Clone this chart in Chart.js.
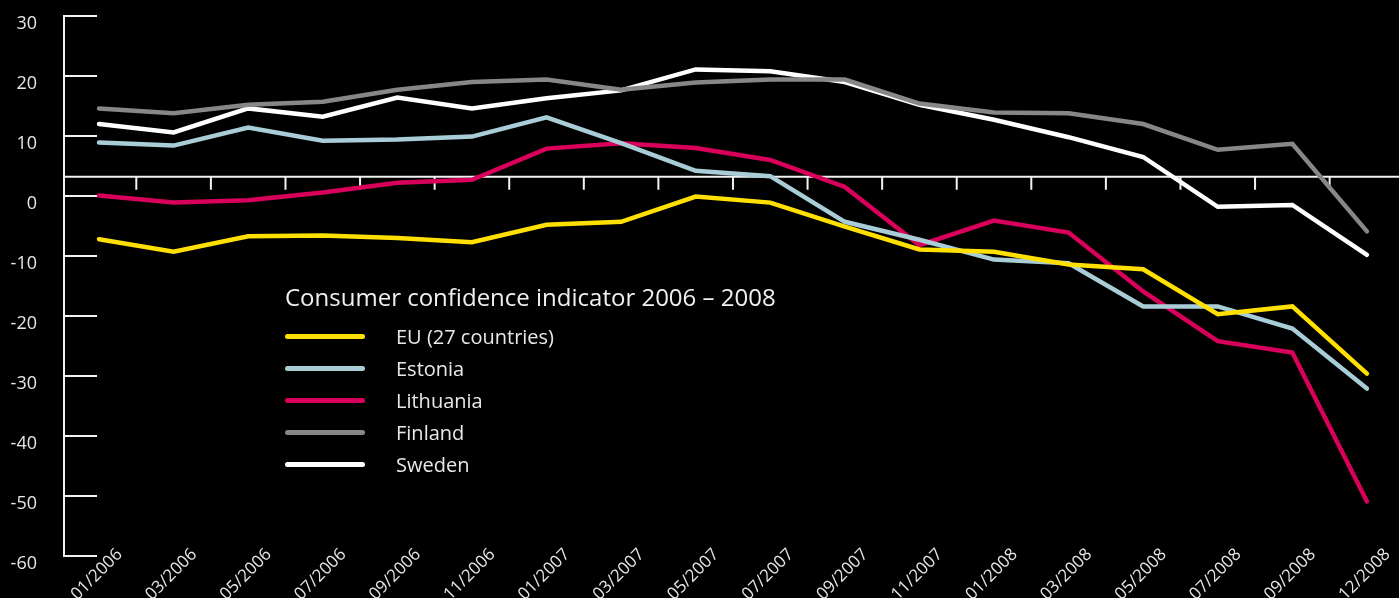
<!DOCTYPE html>
<html>
<head>
<meta charset="utf-8">
<script src="https://cdn.jsdelivr.net/npm/chart.js@4.4.0/dist/chart.umd.min.js"></script>
<style>
  html, body { margin: 0; padding: 0; background: #000; }
  #wrap { position: relative; width: 1399px; height: 598px; }
  #legend {
    position: absolute; left: 285px; top: 280px;
    font-family: "Open Sans", sans-serif; color: #f0f0f0;
  }
  #legend .title { font-size: 24px; line-height: 34px; margin-bottom: 6px; }
  #legend .item { display: flex; align-items: center; height: 32px; }
  #legend .swatch { width: 80px; height: 5px; border-radius: 3px; margin-right: 31px; }
  #legend .label { font-size: 20px; color: #e8e8e8; }
</style>
</head>
<body>
<div id="wrap">
  <canvas id="chart" width="1399" height="598"></canvas>
  <div id="legend"></div>
</div>
<script>
const categories = [
  "01/2006", "03/2006", "05/2006", "07/2006", "09/2006", "11/2006",
  "01/2007", "03/2007", "05/2007", "07/2007", "09/2007", "11/2007",
  "01/2008", "03/2008", "05/2008", "07/2008", "09/2008", "12/2008"
];

const euValues = [-7.2, -9.3, -6.7, -6.6, -7.0, -7.7, -4.8, -4.3, -0.1, -1.1, -5.1, -8.9, -9.3, -11.4, -12.2, -19.7, -18.4, -29.6];
const estoniaValues = [8.9, 8.4, 11.4, 9.2, 9.4, 9.9, 13.1, 8.8, 4.2, 3.3, -4.3, -7.3, -10.6, -11.2, -18.4, -18.4, -22.1, -32.1];
const lithuaniaValues = [0.1, -1.1, -0.7, 0.6, 2.2, 2.7, 7.9, 8.8, 8.0, 6.0, 1.5, -8.2, -4.1, -6.1, -15.9, -24.2, -26.1, -50.9];
const finlandValues = [14.6, 13.8, 15.2, 15.7, 17.7, 19.0, 19.4, 17.7, 18.9, 19.4, 19.4, 15.4, 13.9, 13.8, 12.0, 7.7, 8.7, -5.9];
const swedenValues = [12.0, 10.6, 14.6, 13.2, 16.4, 14.6, 16.3, 17.6, 21.1, 20.8, 19.0, 15.2, 12.7, 9.8, 6.5, -1.8, -1.5, -9.8];

const yTickValues = [30, 20, 10, 0, -10, -20, -30, -40, -50, -60];
const chartTitle = "Consumer confidence indicator 2006 – 2008";
const baselineValue = 3.2; // the horizontal axis line sits a bit above zero in the original

const toPoints = (values) => values.map((v, i) => ({ x: i, y: v }));

const series = [
  { label: "EU (27 countries)", values: euValues, color: "#ffe000" },
  { label: "Estonia", values: estoniaValues, color: "#a9cdd7" },
  { label: "Lithuania", values: lithuaniaValues, color: "#d9005b" },
  { label: "Finland", values: finlandValues, color: "#878787" },
  { label: "Sweden", values: swedenValues, color: "#ffffff" },
];

// axis line, inward ticks and the raised horizontal line with its small ticks
const axisLines = {
  id: "axisLines",
  beforeDatasetsDraw(chart) {
    const { ctx, chartArea } = chart;
    const x = chart.scales.x;
    const y = chart.scales.y;
    ctx.save();
    ctx.strokeStyle = "#f2f2f2";
    ctx.lineWidth = 2;
    ctx.beginPath();
    const left = chartArea.left + 1;
    ctx.moveTo(left, y.getPixelForValue(yTickValues[0]) - 1);
    ctx.lineTo(left, y.getPixelForValue(yTickValues[yTickValues.length - 1]) + 1);
    yTickValues.forEach((v) => {
      const py = y.getPixelForValue(v);
      ctx.moveTo(left, py);
      ctx.lineTo(left + 33, py);
    });
    const by = y.getPixelForValue(baselineValue);
    ctx.moveTo(left, by);
    ctx.lineTo(chartArea.right, by);
    for (let i = 0; i < categories.length - 1; i++) {
      const px = x.getPixelForValue(i + 0.5);
      ctx.moveTo(px, by);
      ctx.lineTo(px, by + 13);
    }
    ctx.stroke();
    ctx.restore();
  },
};

Chart.defaults.font.family = "'Open Sans', sans-serif";

const ctx = document.getElementById("chart").getContext("2d");
const chart = new Chart(ctx, {
  type: "line",
  data: {
    datasets: series.map((s) => ({
      label: s.label,
      data: toPoints(s.values),
      borderColor: s.color,
      backgroundColor: s.color,
      borderWidth: 4.5,
      borderCapStyle: "round",
      pointRadius: 0,
      tension: 0,
      fill: false,
    })),
  },
  options: {
    responsive: false,
    animation: false,
    devicePixelRatio: 1,
    layout: { padding: { top: 16, left: 0, right: 0, bottom: 0 } },
    plugins: {
      legend: { display: false },
      tooltip: { enabled: false },
    },
    scales: {
      x: {
        type: "linear",
        min: -0.483,
        max: 17.43,
        grid: { display: false, drawTicks: false },
        border: { display: false },
        afterFit: (scale) => {
          scale.height = 42;
          scale.paddingLeft = 0;
          scale.paddingRight = 0;
        },
        ticks: {
          stepSize: 1,
          includeBounds: false,
          autoSkip: false,
          minRotation: 45,
          maxRotation: 45,
          mirror: true, // keeps the labels from being clipped at the axis top
          padding: -3,
          labelOffset: 35,
          color: "#e6e6e6",
          font: { size: 17 },
          callback: (v) => (Number.isInteger(v) && categories[v]) || "",
        },
      },
      y: {
        min: -60,
        max: 30,
        grid: { display: false, drawTicks: false },
        border: { display: false },
        afterFit: (scale) => {
          scale.width = 63;
          scale.paddingTop = 0;
          scale.paddingBottom = 0;
        },
        ticks: {
          stepSize: 10,
          padding: 26,
          labelOffset: 8,
          color: "#e6e6e6",
          font: { size: 18 },
        },
      },
    },
  },
  plugins: [axisLines],
});

// legend built from the chart's datasets
const legend = document.getElementById("legend");
const title = document.createElement("div");
title.className = "title";
title.textContent = chartTitle;
legend.appendChild(title);
chart.data.datasets.forEach((ds) => {
  const item = document.createElement("div");
  item.className = "item";
  const sw = document.createElement("span");
  sw.className = "swatch";
  sw.style.background = ds.borderColor;
  const lab = document.createElement("span");
  lab.className = "label";
  lab.textContent = ds.label;
  item.appendChild(sw);
  item.appendChild(lab);
  legend.appendChild(item);
});
</script>
</body>
</html>
